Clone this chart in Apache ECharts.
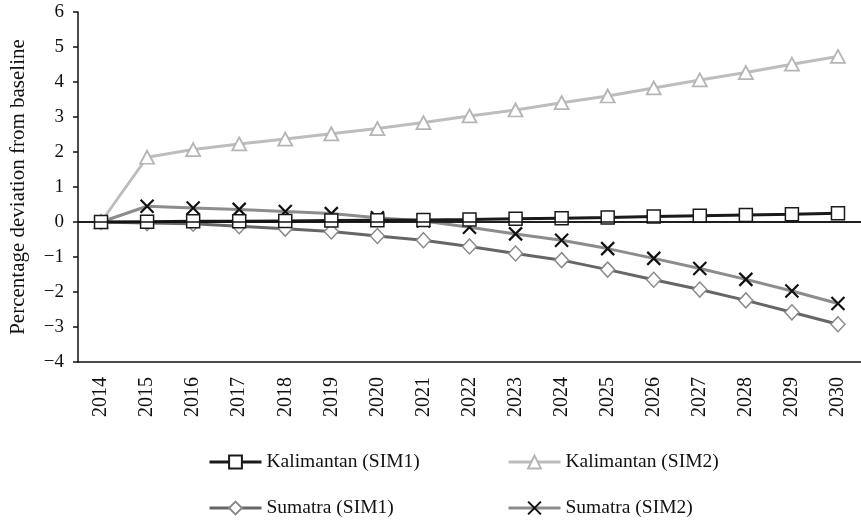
<!DOCTYPE html>
<html>
<head>
<meta charset="utf-8">
<script src="https://cdn.jsdelivr.net/npm/echarts@6/dist/echarts.min.js"></script>
<style>
  html, body { margin: 0; padding: 0; background: #fff; }
  #chart { width: 861px; height: 521px; }
</style>
</head>
<body>
<div id="chart"></div>
<script>
// years on the category axis
const years = ['2014', '2015', '2016', '2017', '2018', '2019', '2020', '2021', '2022',
  '2023', '2024', '2025', '2026', '2027', '2028', '2029', '2030'];

// percentage deviation from baseline
const kalimantanSim1 = [0, 0.01, 0.02, 0.02, 0.03, 0.04, 0.05, 0.06, 0.07, 0.09, 0.11, 0.13, 0.16, 0.18, 0.2, 0.22, 0.25];
const kalimantanSim2 = [0, 1.85, 2.07, 2.23, 2.37, 2.52, 2.67, 2.84, 3.03, 3.2, 3.41, 3.6, 3.83, 4.06, 4.27, 4.51, 4.73];
const sumatraSim1 = [0, -0.03, -0.05, -0.12, -0.19, -0.27, -0.4, -0.52, -0.7, -0.9, -1.09, -1.36, -1.65, -1.93, -2.24, -2.58, -2.92];
const sumatraSim2 = [0, 0.45, 0.4, 0.36, 0.3, 0.24, 0.12, 0.03, -0.15, -0.34, -0.52, -0.76, -1.04, -1.33, -1.64, -1.97, -2.33];

const yTicks = { min: -4, max: 6, interval: 1 };

const font = 'Liberation Serif';
const crossPath = 'path://M0,0L10,10M10,0L0,10';

const chart = echarts.init(document.getElementById('chart'));

const legendBase = {
  padding: 0,
  itemWidth: 52,
  itemHeight: 16,
  itemGap: 0,
  lineStyle: { width: 3 },
  textStyle: { fontFamily: font, fontSize: 19.5, color: '#111' }
};

const options = {
  animation: false,
  grid: { left: 72, right: 0, top: 12, bottom: 159 },
  legend: [
    { ...legendBase, data: ['Kalimantan (SIM1)'], left: 208, top: 452 },
    { ...legendBase, data: ['Kalimantan (SIM2)'], left: 507, top: 452 },
    { ...legendBase, data: ['Sumatra (SIM1)'], left: 208, top: 498 },
    { ...legendBase, data: ['Sumatra (SIM2)'], left: 507, top: 498 }
  ],
  xAxis: [
    {
      type: 'category',
      data: years,
      position: 'bottom',
      axisLine: { onZero: false, lineStyle: { color: '#111', width: 1.5 } },
      axisTick: { alignWithLabel: true, length: 6, lineStyle: { color: '#111', width: 1.5 } },
      axisLabel: { rotate: 90, fontFamily: font, fontSize: 20, color: '#111', margin: 15 }
    },
    {
      // top border of the plot area
      type: 'category',
      data: years,
      position: 'top',
      axisLine: { lineStyle: { color: '#111', width: 1.5 } },
      axisTick: { show: false },
      axisLabel: { show: false }
    }
  ],
  yAxis: {
    type: 'value',
    min: yTicks.min,
    max: yTicks.max,
    interval: yTicks.interval,
    name: 'Percentage deviation from baseline',
    nameLocation: 'middle',
    nameGap: 49,
    nameTextStyle: { fontFamily: font, fontSize: 21, color: '#111' },
    axisLine: { show: true, lineStyle: { color: '#111', width: 1.5 } },
    axisTick: { show: true, length: 5, lineStyle: { color: '#111', width: 1.5 } },
    splitLine: { show: false },
    axisLabel: {
      fontFamily: font, fontSize: 19, color: '#111', margin: 14,
      formatter: (v) => String(v).replace('-', '\u2212')
    }
  },
  series: [
    {
      name: 'Sumatra (SIM1)',
      type: 'line',
      data: sumatraSim1,
      symbol: 'diamond',
      symbolSize: [14, 15],
      showAllSymbol: true,
      lineStyle: { color: '#666', width: 3 },
      itemStyle: { color: '#fff', borderColor: '#8a8a8a', borderWidth: 1.5 },
      z: 2
    },
    {
      name: 'Sumatra (SIM2)',
      type: 'line',
      data: sumatraSim2,
      symbol: crossPath,
      symbolSize: 13,
      showAllSymbol: true,
      lineStyle: { color: '#8c8c8c', width: 3 },
      itemStyle: { color: '#111', borderColor: '#111', borderWidth: 2.2 },
      z: 3
    },
    {
      name: 'Kalimantan (SIM2)',
      type: 'line',
      data: kalimantanSim2,
      symbol: 'triangle',
      symbolSize: [14, 13],
      showAllSymbol: true,
      lineStyle: { color: '#bdbdbd', width: 3 },
      itemStyle: { color: '#fff', borderColor: '#b5b5b5', borderWidth: 1.8 },
      z: 2
    },
    {
      name: 'Kalimantan (SIM1)',
      type: 'line',
      data: kalimantanSim1,
      symbol: 'rect',
      symbolSize: 13,
      showAllSymbol: true,
      lineStyle: { color: '#1a1a1a', width: 3 },
      itemStyle: { color: '#fff', borderColor: '#1a1a1a', borderWidth: 1.5 },
      markLine: {
        silent: true,
        symbol: 'none',
        label: { show: false },
        lineStyle: { color: '#111', width: 1.5, type: 'solid' },
        data: [{ yAxis: 0 }]
      },
      z: 4
    }
  ]
};

chart.setOption(options);
</script>
</body>
</html>
